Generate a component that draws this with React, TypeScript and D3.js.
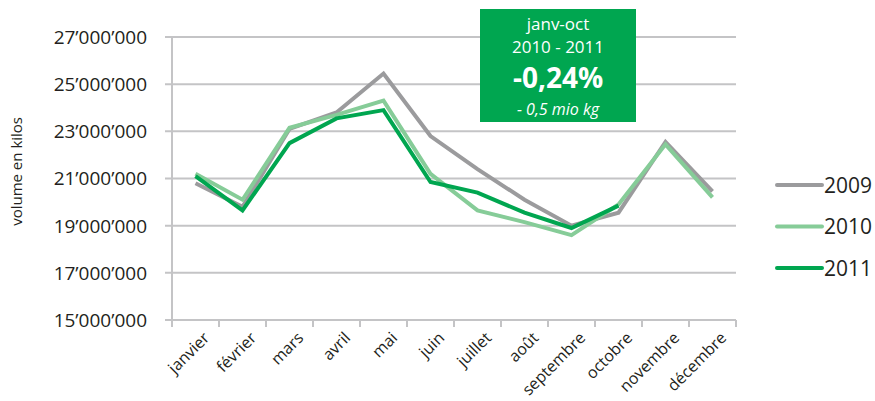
import React from 'react';
import * as d3 from 'd3';

const months = ['janvier', 'février', 'mars', 'avril', 'mai', 'juin', 'juillet', 'août', 'septembre', 'octobre', 'novembre', 'décembre'];
const values2009 = [20.8, 19.8, 23.1, 23.8, 25.45, 22.8, 21.4, 20.1, 19.0, 19.55, 22.55, 20.45];
const values2010 = [21.2, 20.1, 23.15, 23.7, 24.3, 21.2, 19.65, 19.15, 18.6, 19.9, 22.45, 20.2];
const values2011 = [21.1, 19.65, 22.5, 23.55, 23.9, 20.85, 20.4, 19.55, 18.9, 19.85];
const yTicks = [15, 17, 19, 21, 23, 25, 27];
const seriesNames = ['2009', '2010', '2011'];
const seriesColors = ['#9b9b9d', '#86cc98', '#00a650'];

const font = '"Open Sans", "Noto Sans", sans-serif';

const fmt = (v: number) => `${v}’000’000`;

export default function App() {
  const width = 875, height = 401;
  const margin = { left: 172, right: 139, top: 37, bottom: 81 };

  const x = d3.scaleBand<string>()
    .domain(months)
    .range([margin.left, width - margin.right]);
  const y = d3.scaleLinear()
    .domain([15, 27])
    .range([height - margin.bottom, margin.top]);

  const line = d3.line<number>()
    .x((d, i) => (x(months[i]) as number) + x.bandwidth() / 2)
    .y(d => y(d));

  const all = [values2009, values2010, values2011];
  const bottom = y(15);

  return (
    <svg width={width} height={height} style={{ position: 'absolute', left: 0, top: 0 }}>
      <rect width={width} height={height} fill="#fff" />
      {/* gridlines */}
      {yTicks.map(t => (
        <g key={t}>
          <line x1={margin.left - 7} x2={width - margin.right} y1={y(t)} y2={y(t)} stroke="#c4c4c6" strokeWidth={2} />
          <text x={147} y={y(t)} dy="0.36em" textAnchor="end" fontFamily={font} fontSize={19} fill="#231f20">{fmt(t)}</text>
        </g>
      ))}
      <line x1={margin.left} x2={margin.left} y1={y(27)} y2={bottom} stroke="#c4c4c6" strokeWidth={2} />
      {/* x ticks */}
      {months.map(m => (
        <line key={m} x1={x(m)} x2={x(m)} y1={bottom} y2={bottom + 7} stroke="#c4c4c6" strokeWidth={2} />
      ))}
      <line x1={width - margin.right} x2={width - margin.right} y1={bottom} y2={bottom + 7} stroke="#c4c4c6" strokeWidth={2} />
      {months.map(m => {
        const cx = (x(m) as number) + x.bandwidth() / 2 + 7;
        const cy = bottom + 11;
        return (
          <text key={m} x={cx} y={cy} transform={`rotate(-45 ${cx} ${cy})`} textAnchor="end" dy="0.7em"
            fontFamily={font} fontSize={16} fill="#231f20">{m}</text>
        );
      })}
      <text transform={`translate(22 ${y(21.3)}) rotate(-90)`} textAnchor="middle" fontFamily={font} fontSize={15} fill="#231f20">volume en kilos</text>
      {/* lines */}
      {all.map((vals, i) => (
        <path key={i} d={line(vals) || ''} fill="none" stroke={seriesColors[i]} strokeWidth={4} strokeLinejoin="miter" />
      ))}
      {/* legend */}
      {seriesNames.map((n, i) => (
        <g key={n} transform={`translate(777 ${185 + i * 41.5})`}>
          <line x1={0} x2={45} y1={0} y2={0} stroke={seriesColors[i]} strokeWidth={4} strokeLinecap="round" />
          <text x={47} y={0} dy="0.36em" fontFamily={font} fontSize={21} fill="#231f20">{n}</text>
        </g>
      ))}
      {/* callout */}
      <rect x={480} y={9} width={156} height={113} fill="#00a650" />
      <g fontFamily={font} fill="#fff" textAnchor="middle">
        <text x={558} y={30} fontSize={17}>janv-oct</text>
        <text x={558} y={53} fontSize={17}>2010 - 2011</text>
        <text x={558} y={88} fontSize={28} fontWeight="bold">-0,24%</text>
        <text x={558} y={115} fontSize={16} fontStyle="italic">- 0,5 mio kg</text>
      </g>
    </svg>
  );
}
